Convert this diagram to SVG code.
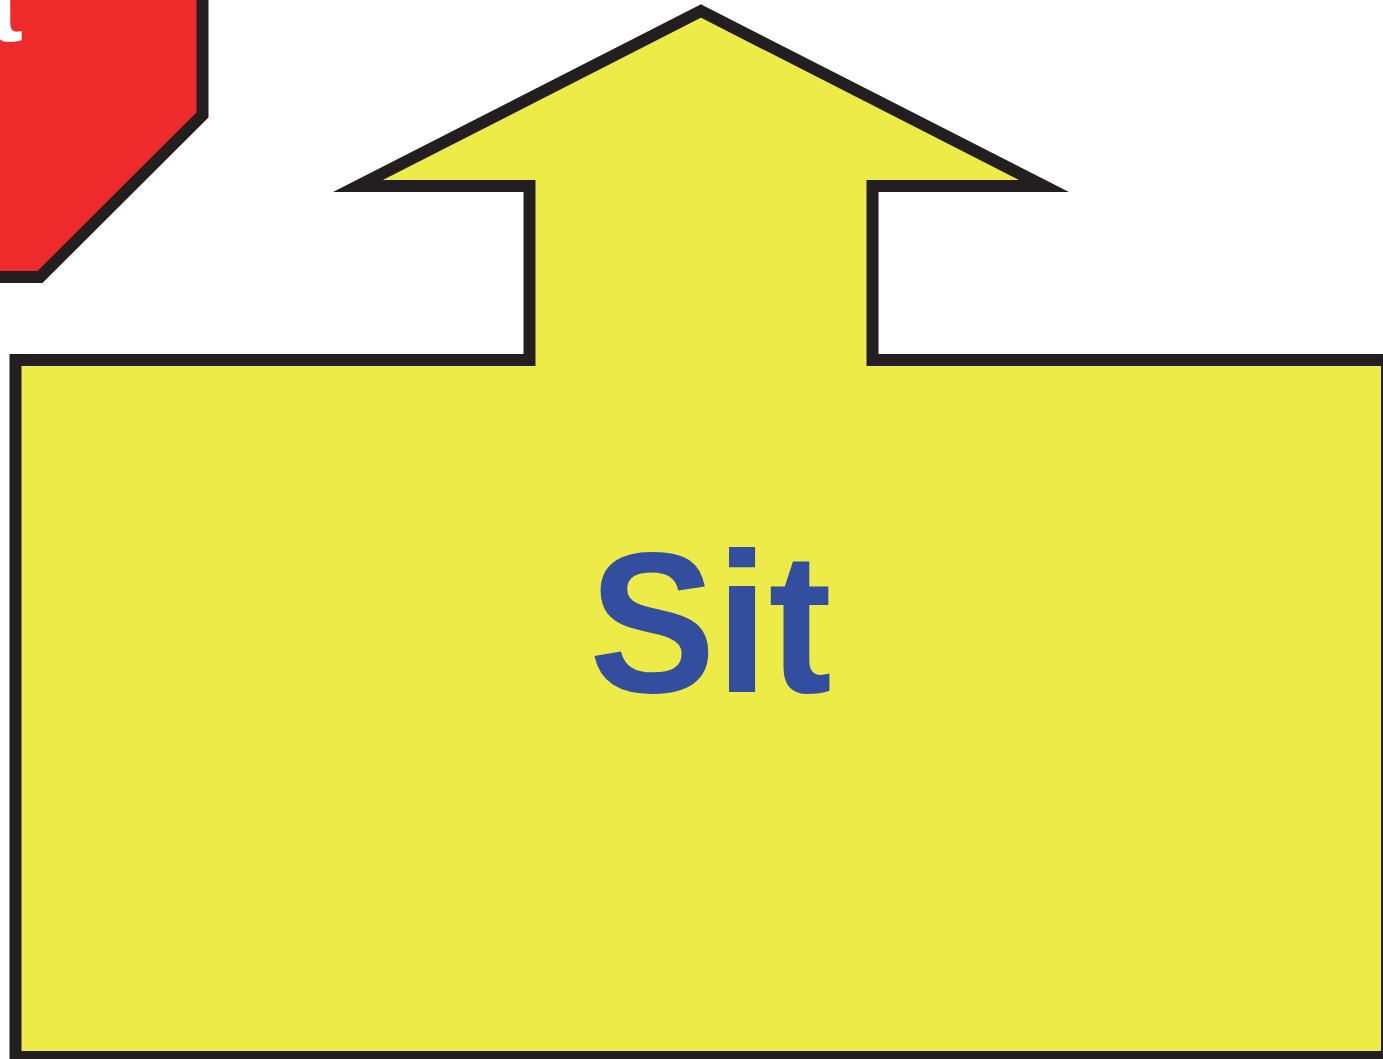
<svg xmlns="http://www.w3.org/2000/svg" width="1383" height="1059" viewBox="0 0 1383 1059">
  <style>
    .outline { stroke: #231f20; stroke-width: 12; stroke-linejoin: miter; stroke-miterlimit: 10; }
    .yellow { fill: #edeb47; }
    .red { fill: #ee2b2a; }
    .label { font-family: "Liberation Sans", Arial, sans-serif; font-weight: bold; }
  </style>
  <rect width="1383" height="1059" fill="#ffffff"/>
  <g id="red-sign">
    <path class="outline red" d="M -20 -20 L 202.5 -20 L 202.5 115 L 40 277 L -20 277 Z"/>
    <text class="label" x="-13" y="41" font-size="108" fill="#ffffff">t</text>
  </g>
  <g id="sit-arrow">
    <path class="outline yellow" d="M 701 11 L 1044 186 L 872.5 186 L 872.5 360 L 1387 360 L 1387 1057 L 15.5 1057 L 15.5 360 L 529.5 360 L 529.5 186 L 358 186 Z"/>
    <text class="label" transform="scale(0.95,1)" x="620" y="692" font-size="200" fill="#334d9f">Sit</text>
  </g>
  <g id="connectors"></g>
</svg>
